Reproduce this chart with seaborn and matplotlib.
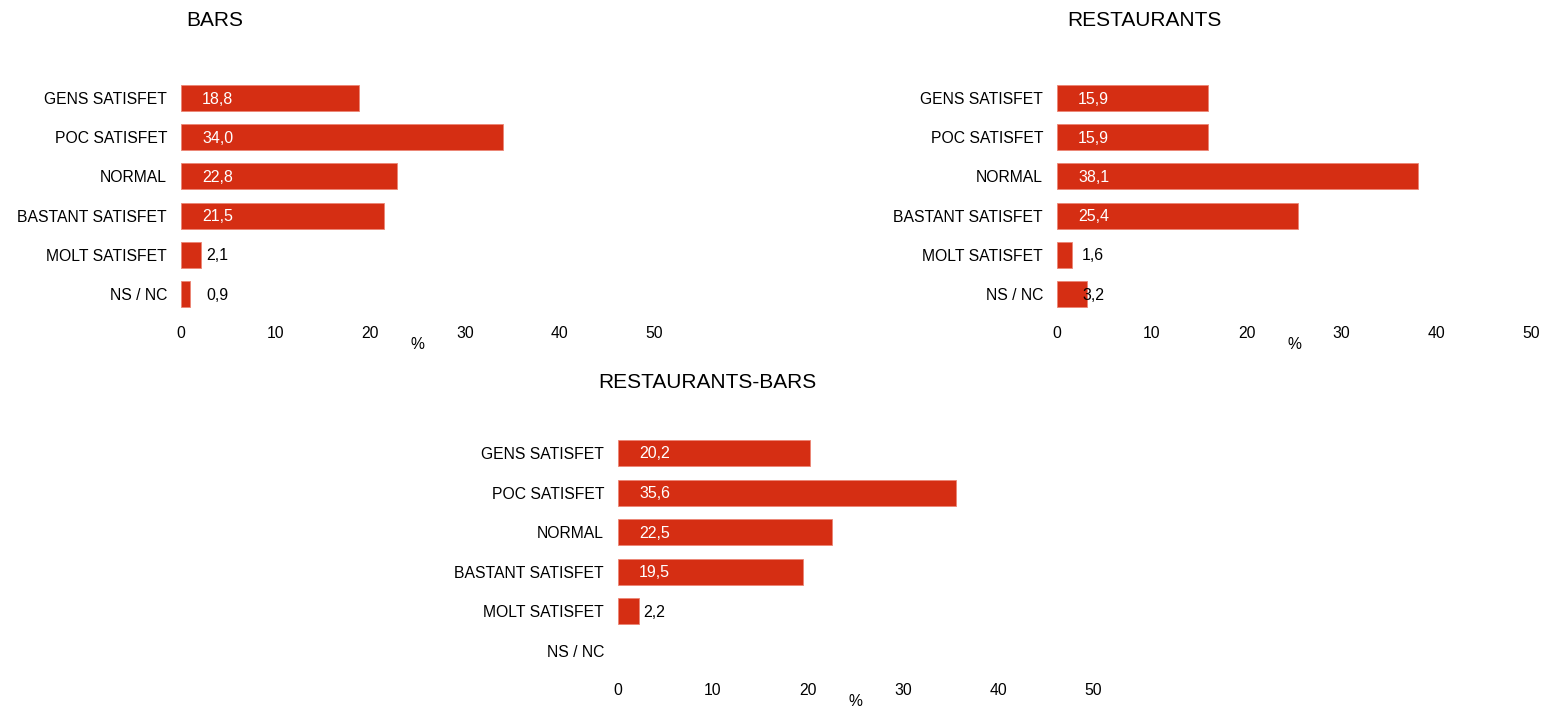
"""
Satisfaction survey: three horizontal bar panels (bars, restaurants, both).
"""

import numpy as np
import pandas as pd
import matplotlib
matplotlib.use("Agg")
import matplotlib.pyplot as plt
import seaborn as sns

categories = ['GENS SATISFET', 'POC SATISFET', 'NORMAL', 'BASTANT SATISFET', 'MOLT SATISFET', 'NS / NC']
bars_vals = [18.8, 34.0, 22.8, 21.5, 2.1, 0.9]
restaurants_vals = [15.9, 15.9, 38.1, 25.4, 1.6, 3.2]
rest_bars_vals = [20.2, 35.6, 22.5, 19.5, 2.2, np.nan]
titles = ['BARS', 'RESTAURANTS', 'RESTAURANTS-BARS']
x_ticks = [0, 10, 20, 30, 40, 50]

RED = '#d52e13'
W, H = 1543, 708

sns.set_style('white')
plt.rcParams['font.family'] = ['Liberation Sans', 'DejaVu Sans']
plt.rcParams['text.color'] = 'black'
plt.rcParams['axes.labelcolor'] = 'black'

fig = plt.figure(figsize=(W / 100, H / 100), dpi=100)


def px_axes(left, right, top, bottom):
    return fig.add_axes([left / W, 1 - bottom / H, (right - left) / W, (bottom - top) / H])


# pixel boxes: left, right, top, bottom ; title centre x, y
panels = [
    (bars_vals, (181, 654, 78.4, 313.6), (215, 21)),
    (restaurants_vals, (1057, 1531, 78.4, 313.6), (1144, 21)),
    (rest_bars_vals, (618, 1093, 433.2, 670.8), (707, 382)),
]

for (vals, box, tpos), title in zip(panels, titles):
    ax = px_axes(*box)
    df = pd.DataFrame({'cat': categories, 'val': vals})
    sns.barplot(data=df, x='val', y='cat', order=categories, orient='h',
                color=RED, saturation=1, width=0.66, ax=ax,
                edgecolor='#ec8574', linewidth=0.6)
    ax.set_xlim(0, 50)
    ax.set_ylim(5.5, -0.5)
    ax.set_xticks(x_ticks)
    ax.tick_params(axis='both', length=0, labelsize=11.3, colors='black')
    ax.tick_params(axis='x', pad=9)
    ax.tick_params(axis='y', pad=10)
    ax.set_ylabel('')
    ax.set_xlabel('%', fontsize=11.3)
    ax.xaxis.set_label_coords(0.5, -0.098)
    ax.xaxis.label.set_va('top')
    sns.despine(ax=ax, left=True, bottom=True)

    for i, v in enumerate(vals):
        if pd.isna(v):
            continue
        txt = f"{v:.1f}".replace('.', ',')
        if v > 5:
            ax.annotate(txt, (0, i), xytext=(21, -1), textcoords='offset pixels',
                        ha='left', va='center', color='white', fontsize=11.5)
        else:
            ax.annotate(txt, (0, i), xytext=(25, -1), textcoords='offset pixels',
                        ha='left', va='center', color='black', fontsize=11.5)

    fig.text(tpos[0] / W, 1 - tpos[1] / H, title, ha='center', va='center', fontsize=15)

fig.savefig('out.png', dpi=100)
